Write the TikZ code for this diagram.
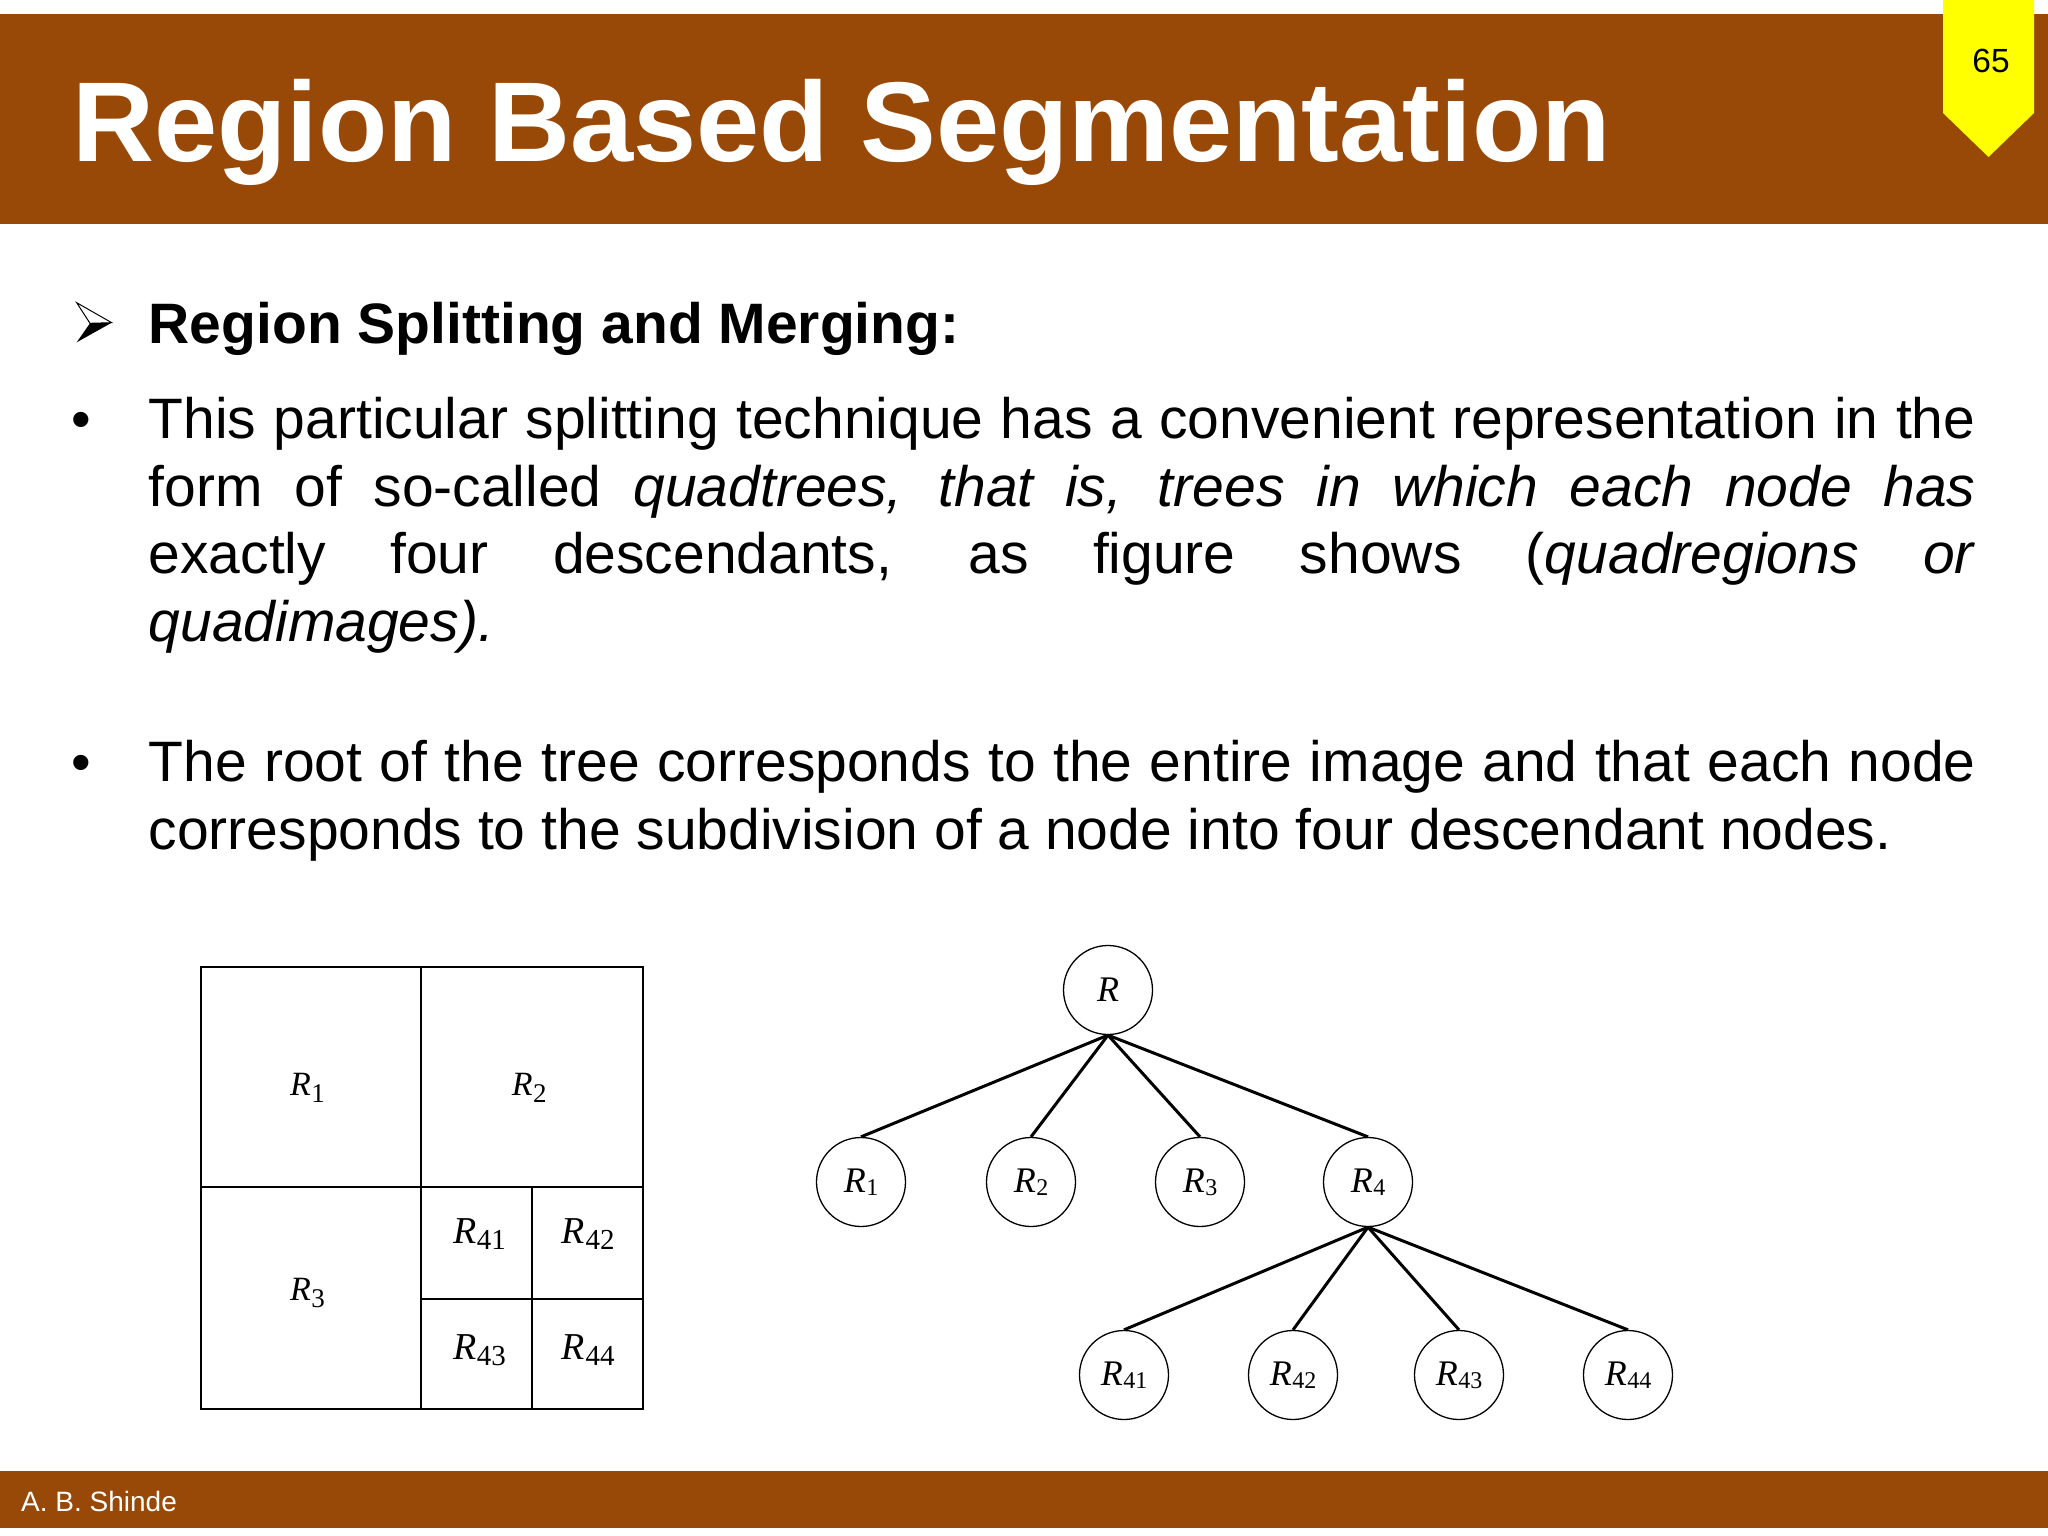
\documentclass[tikz,border=0pt]{standalone}
\usepackage{fontspec}
\setmainfont{Liberation Sans}
\newfontfamily\figserif{Liberation Serif}
\usetikzlibrary{positioning}
\definecolor{slidebrown}{RGB}{152,72,7}
\definecolor{tagyellow}{RGB}{255,255,0}
\newcommand{\fsz}[1]{\fontsize{#1}{#1}\selectfont}
\newcommand{\regn}[1]{\textit{R}\kern0.5pt\raisebox{-\subdrop}{\fsz{\subsz}#1}}
\newcommand{\bodypar}[1]{\begin{minipage}[t]{1827pt}\tolerance=9999 \hyphenpenalty=10000 #1\end{minipage}}
\begin{document}
\begin{tikzpicture}[x=1pt,y=-1pt,
  treenode/.style={draw,circle,minimum size=89pt,inner sep=0pt,line width=1.3pt,font=\figserif\fsz{36}\def\subsz{24}\def\subdrop{3pt}},
  bigcell/.style={anchor=base west,inner sep=0pt,font=\figserif\fsz{34}\def\subsz{27}\def\subdrop{7pt}},
  smallcell/.style={anchor=base west,inner sep=0pt,font=\figserif\fsz{38}\def\subsz{29}\def\subdrop{6pt}},
  branch/.style={line width=3pt},
  cell/.style={line width=2.7pt},
  bodytext/.style={anchor=base west,inner sep=0pt,font=\fontsize{57}{67.8}\selectfont},
  bullet/.style={anchor=base,inner sep=0pt,font=\fontsize{56}{56}\selectfont}]
\useasboundingbox (0,0) rectangle (2048,1536);
\fill[white] (0,0) rectangle (2048,1536);
\fill[slidebrown] (0,14) rectangle (2048,224);
\fill[slidebrown] (0,1471) rectangle (2048,1528);
\fill[tagyellow] (1943,0) -- (2034,0) -- (2034,113) -- (1988.5,157) -- (1943,113) -- cycle;
\node[anchor=base,inner sep=0pt,font=\fsz{33.5}] (pagenum) at (1991,72.3) {65};
\node[anchor=base west,inner sep=0pt,text=white,font=\bfseries\fsz{113.5}] (title) at (72,161.7) {Region Based Segmentation};
\node[anchor=base west,inner sep=0pt,text=white,font=\fsz{28}] (author) at (21,1511) {A. B. Shinde};
\filldraw[fill=white,draw=black,line width=1pt] (76.7,302.7) -- (111.7,322.7) -- (90,323.3) -- cycle;
\fill[black] (90,323.3) -- (111.7,322.7) -- (76.7,342.3) -- cycle;
\node[anchor=base west,inner sep=0pt,font=\bfseries\fsz{57}] (heading) at (148.5,343.3) {Region Splitting and Merging:};
\node[bullet] (b1) at (81.7,438.3) {•};
\node[bodytext] (para1) at (148.5,438.3) {\bodypar{This particular splitting technique has a convenient representation in the\linebreak form of so-called \textit{quadtrees, that is, trees in which each node has}\linebreak exactly four descendants, as figure shows (\textit{quadregions or}\linebreak \textit{quadimages).}}};
\node[bullet] (b2) at (81.7,781.7) {•};
\node[bodytext] (para2) at (148.5,781.7) {\bodypar{The root of the tree corresponds to the entire image and that each node\linebreak corresponds to the subdivision of a node into four descendant nodes.}};
\draw[cell] (201,967) rectangle (643,1409);
\draw[cell] (421,967) -- (421,1409) (201,1187) -- (643,1187);
\draw[cell] (532,1187) -- (532,1409) (421,1299) -- (643,1299);
\node[bigcell] (q1) at (290,1095.7) {\regn{1}};
\node[bigcell] (q2) at (511.7,1095.7) {\regn{2}};
\node[bigcell] (q3) at (290,1300) {\regn{3}};
\node[smallcell] (q41) at (453,1243.3) {\regn{41}};
\node[smallcell] (q42) at (561.7,1243.3) {\regn{42}};
\node[smallcell] (q43) at (453,1359) {\regn{43}};
\node[smallcell] (q44) at (561.7,1359) {\regn{44}};
\node[treenode] (r) at (1108,990) {\textit{R}};
\node[treenode] (r1) at (861,1182) {\regn{1}};
\node[treenode] (r2) at (1031,1182) {\regn{2}};
\node[treenode] (r3) at (1200,1182) {\regn{3}};
\node[treenode] (r4) at (1368,1182) {\regn{4}};
\node[treenode] (r41) at (1124,1375) {\regn{41}};
\node[treenode] (r42) at (1293,1375) {\regn{42}};
\node[treenode] (r43) at (1459,1375) {\regn{43}};
\node[treenode] (r44) at (1628,1375) {\regn{44}};
\foreach \k in {1,...,4} \draw[branch] (r.south) -- (r\k.north);
\foreach \k in {1,...,4} \draw[branch] (r4.south) -- (r4\k.north);
\end{tikzpicture}
\end{document}
